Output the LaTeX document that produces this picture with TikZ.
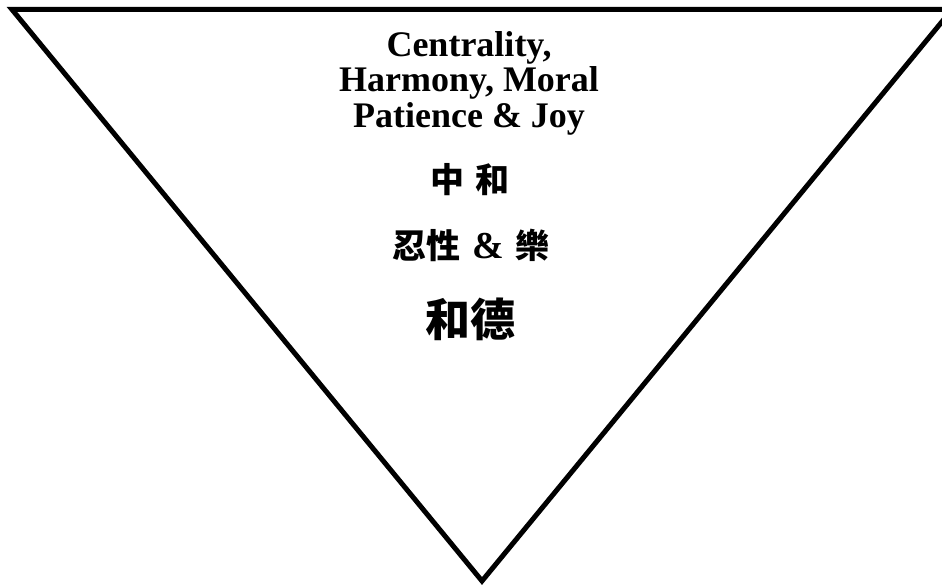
\documentclass[tikz,border=0pt]{standalone}
\usepackage{fontspec}
\setmainfont{Liberation Serif}
\newfontfamily\cjk{Noto Sans CJK TC}
\tikzset{
  tri/.style={draw=black, line width=5pt, line join=miter},
  entext/.style={font=\fontsize{36}{36}\selectfont\bfseries, inner sep=0pt, anchor=base},
  zhtext/.style={font=\cjk\bfseries\fontsize{34}{34}\selectfont, inner sep=0pt, anchor=center},
  zhbig/.style={font=\cjk\bfseries\fontsize{45}{45}\selectfont, inner sep=0pt, anchor=center}
}
\begin{document}
\begin{tikzpicture}[x=1pt,y=-1pt]
\useasboundingbox (0,0) rectangle (942,586);
\begin{scope}
\clip (0,0) rectangle (942,586);
\coordinate (tl) at (12,9.5);
\coordinate (tr) at (952,9.5);
\coordinate (ap) at (482,581);
\draw[tri] (tl) -- (tr) -- (ap) -- cycle;
\end{scope}
\node[entext] (l1) at (469,57) {Centrality,};
\node[entext] (l2) at (469,92) {Harmony, Moral};
\node[entext] (l3) at (469,127) {Patience \& Joy};
\node[zhtext] (z1) at (470,180) {中\hspace{0.3em}和};
\node[zhtext] (z2) at (471,245) {忍性\hspace{0.35em}{\rmfamily\bfseries\fontsize{38}{38}\selectfont\&}\hspace{0.35em}樂};
\node[zhbig] (z3) at (470,319) {和德};
\end{tikzpicture}
\end{document}
